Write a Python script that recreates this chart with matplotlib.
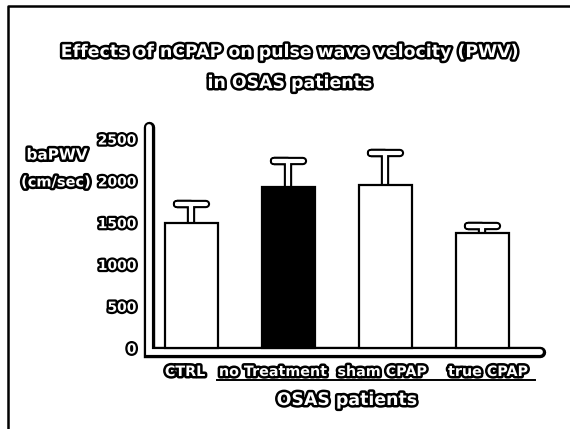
import matplotlib.pyplot as plt
import matplotlib.patheffects as pe
from matplotlib.lines import Line2D

# ---------------------------------------------------------------- data ----
groups = ["CTRL", "no Treatment", "sham CPAP", "true CPAP"]
pwv_mean = [1500, 1930, 1950, 1380]     # baPWV (cm/sec)
pwv_sd = [220, 310, 380, 80]
bar_colors = ["white", "black", "white", "white"]
y_ticks = [0, 500, 1000, 1500, 2000, 2500]
y_ticklabels = ["0", "500", "1000", "1500", "2000", "2500"]

title_1 = "Effects of nCPAP on pulse wave velocity (PWV)"
title_2 = "in OSAS patients"
ylab_1 = "baPWV"
ylab_2 = "(cm/sec)"
group_label = "OSAS patients"

# outlined "hollow" look of the scanned figure
def hollow(lw):
    return [pe.withStroke(linewidth=lw, foreground="black")]

W, H = 570, 429
fig = plt.figure(figsize=(W / 100, H / 100), dpi=100)
fig.patch.set_facecolor("white")

ax = fig.add_axes([142 / W, (H - 365) / H, (560 - 142) / W, (365 - 110) / H])
ax.set_xlim(-0.51, 3.8)
ax.set_ylim(-203, 2847)
for s in ax.spines.values():
    s.set_visible(False)

x = list(range(len(groups)))
ax.bar(x, pwv_mean, width=0.54, color=bar_colors, edgecolor="black", linewidth=1.6, zorder=3)

# error bars drawn as hollow T shapes
cap = 0.15
for xi, m, sd in zip(x, pwv_mean, pwv_sd):
    ax.plot([xi, xi, xi - cap, xi + cap], [m, m + sd, m + sd, m + sd],
            color="white", linewidth=3.0, solid_capstyle="round", solid_joinstyle="round",
            path_effects=[pe.Stroke(linewidth=6.0, foreground="black"), pe.Normal()], zorder=2)

# axes drawn as hollow thick lines
ax.plot([-0.438, -0.438, 3.59], [2640, -45, -45], color="white", linewidth=4.2,
        solid_capstyle="round", solid_joinstyle="miter",
        path_effects=[pe.Stroke(linewidth=8.2, foreground="black"), pe.Normal()], zorder=1)

ax.set_xticks([])
ax.set_yticks(y_ticks)
ax.set_yticklabels(y_ticklabels)
ax.tick_params(axis="y", length=0, pad=4)
for lab in ax.get_yticklabels():
    lab.set_fontsize(10)
    lab.set_fontweight("bold")
    lab.set_color("white")
    lab.set_path_effects(hollow(3.2))

# text
txt = dict(color="white", fontweight="bold", path_effects=hollow(3.6))
fig.text(290 / W, 1 - 52 / H, title_1, ha="center", va="center", fontsize=12.5, **txt)
fig.text(290 / W, 1 - 83 / H, title_2, ha="center", va="center", fontsize=12.5, **txt)
fig.text(57 / W, 1 - 155 / H, ylab_1, ha="center", va="center", fontsize=11, **txt)
fig.text(56 / W, 1 - 182 / H, ylab_2, ha="center", va="center", fontsize=10.5, **txt)

# labels sit a bit off the bar centres in the original
label_px = [185, 273, 382, 488]
for g, px in zip(groups, label_px):
    fig.text(px / W, 1 - 372 / H, g, ha="center", va="center", fontsize=10.3, **txt)

fig.add_artist(Line2D([217 / W, 535 / W], [1 - 380 / H, 1 - 380 / H], color="black", linewidth=1.4))
fig.text(347 / W, 1 - 400 / H, group_label, ha="center", va="center", fontsize=12.5, **txt)

# frame of the scanned page
fig.add_artist(Line2D([8 / W, 8 / W, 1.0], [0.0, 1 - 6 / H, 1 - 6 / H], color="black", linewidth=1.8))

fig.savefig("out.png", dpi=100, facecolor="white")
